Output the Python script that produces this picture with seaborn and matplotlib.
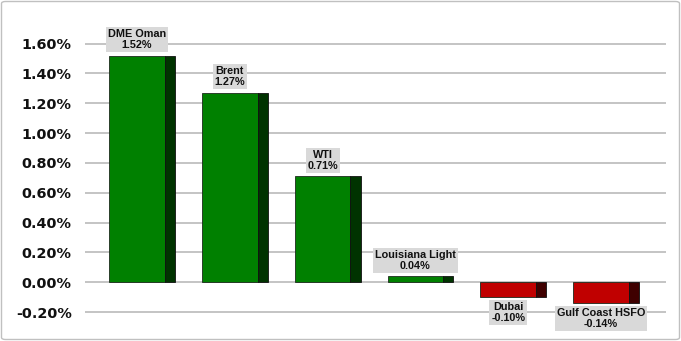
import matplotlib
matplotlib.use("Agg")
import matplotlib.pyplot as plt
import seaborn as sns
import pandas as pd
from matplotlib.patches import FancyBboxPatch
from matplotlib.ticker import FuncFormatter

categories = ["DME Oman", "Brent", "WTI", "Louisiana Light", "Dubai", "Gulf Coast HSFO"]
values = [1.52, 1.27, 0.71, 0.04, -0.10, -0.14]
label_texts = ["1.52%", "1.27%", "0.71%", "0.04%", "-0.10%", "-0.14%"]
yticks = [-0.20, 0.00, 0.20, 0.40, 0.60, 0.80, 1.00, 1.20, 1.40, 1.60]

front_pos, side_pos = "#008000", "#003300"
front_neg, side_neg = "#C00000", "#3f0000"

sns.set_theme(style="white")
plt.rcParams['font.family'] = ['DejaVu Sans']

df = pd.DataFrame({"cat": categories, "val": values})
front_colors = {c: (front_pos if v >= 0 else front_neg) for c, v in zip(categories, values)}
side_colors = [side_pos if v >= 0 else side_neg for v in values]

fig = plt.figure(figsize=(6.81, 3.41), dpi=100)
W, H = 681, 341
ax = fig.add_axes([85 / W, (H - 312.5) / H, (666 - 85) / W, (312.5 - 43.2) / H])

sns.barplot(data=df, x="cat", y="val", hue="cat", palette=front_colors, width=0.60,
            saturation=1, dodge=False, legend=False, ax=ax,
            edgecolor="#1c2a1c", linewidth=0.6, zorder=3)
# side faces (darker) for the 3-D look
ax.bar([i + 0.355 for i in range(len(values))], values, width=0.11,
       color=side_colors, edgecolor="#101010", linewidth=0.6, zorder=3)

ax.set_xlim(-0.560, 5.700)
ax.set_ylim(-0.2025, 1.6025)
ax.set_yticks(yticks)
ax.yaxis.set_major_formatter(FuncFormatter(lambda v, p: f"{v:.2f}%"))
ax.set_xticks([])
ax.set_xlabel("")
ax.set_ylabel("")
for s in ax.spines.values():
    s.set_visible(False)
ax.grid(axis="y", color="#b4b4b4", linewidth=1.1, zorder=0)
ax.set_axisbelow(True)
ax.tick_params(axis="y", length=0, pad=9.5, labelsize=10.4)
for t in ax.get_yticklabels():
    t.set_fontweight("bold")
    t.set_color("#111111")

for i, (cat, v, lt) in enumerate(zip(categories, values, label_texts)):
    txt = f"{cat}\n{lt}"
    if v >= 0:
        ax.annotate(txt, xy=(i, v), xytext=(0, 5.5), textcoords="offset pixels",
                    ha="center", va="bottom", fontsize=7.8, fontweight="bold",
                    family=["Liberation Sans", "DejaVu Sans"], linespacing=1.15,
                    color="#111111", zorder=5,
                    bbox=dict(boxstyle="square,pad=0.16", fc="#d9d9d9", ec="none"))
    else:
        ax.annotate(txt, xy=(i, v), xytext=(0, -5), textcoords="offset pixels",
                    ha="center", va="top", fontsize=7.8, fontweight="bold",
                    family=["Liberation Sans", "DejaVu Sans"], linespacing=1.15,
                    color="#111111", zorder=5,
                    bbox=dict(boxstyle="square,pad=0.16", fc="#d9d9d9", ec="none"))

border = FancyBboxPatch((1.5 / W, 1.5 / H), (W - 3) / W, (H - 3) / H,
                        boxstyle="round,pad=0,rounding_size=0.006",
                        transform=fig.transFigure, fc="none", ec="#c0c0c0", lw=1.0)
fig.patches.append(border)

fig.savefig("out.png", dpi=100)
